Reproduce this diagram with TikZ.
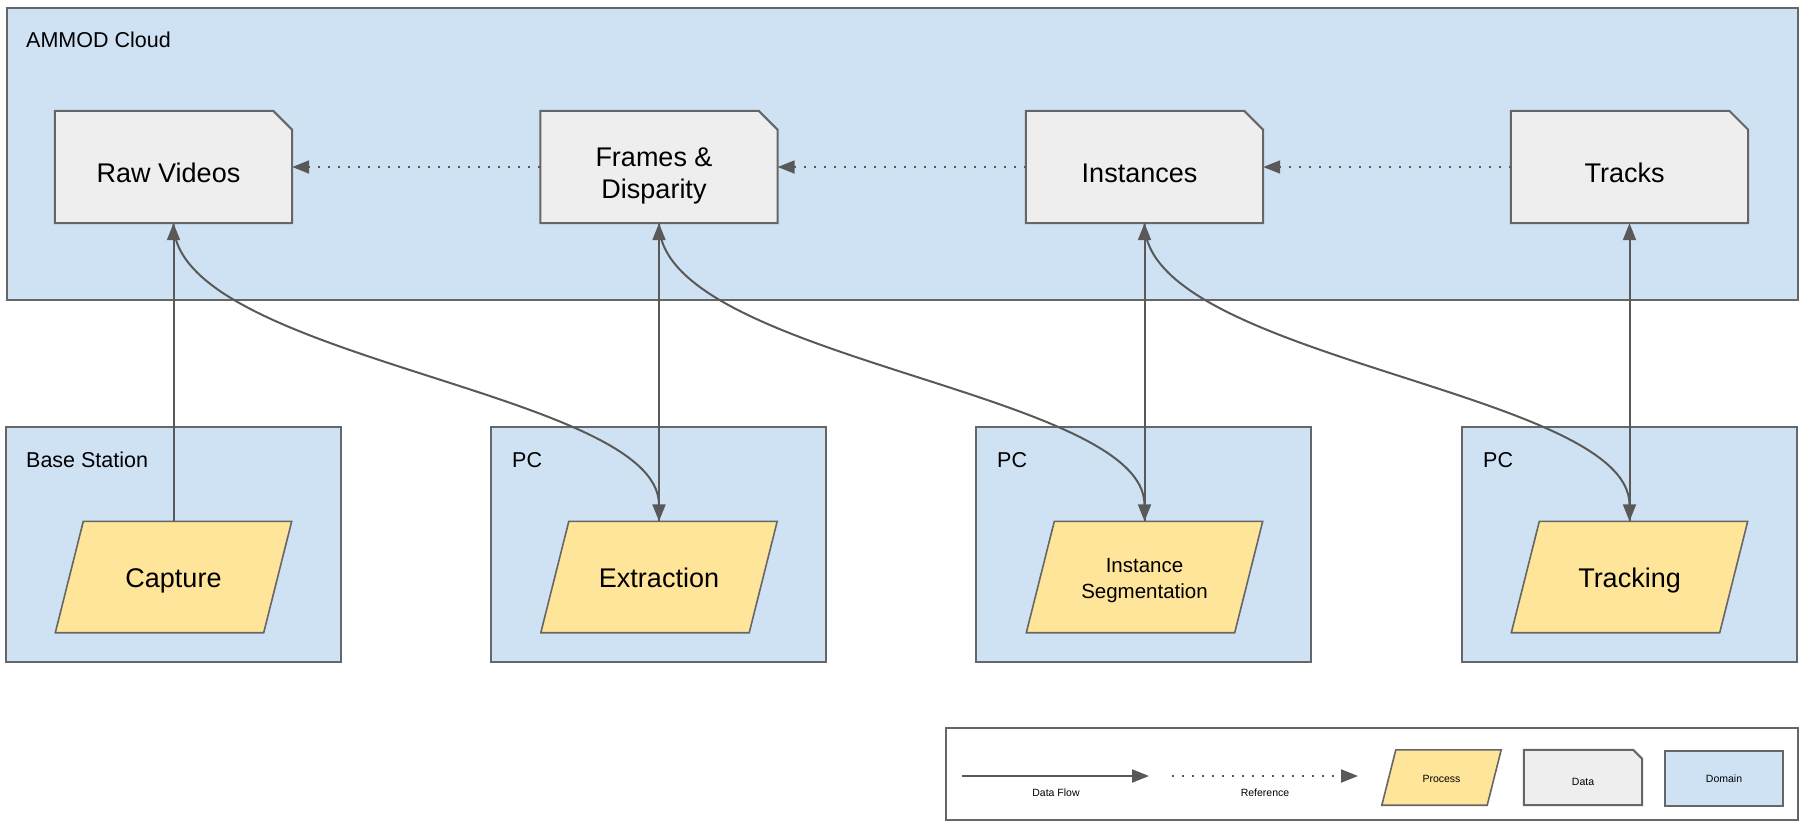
\documentclass[tikz,border=0pt]{standalone}
\usepackage{fontspec}
\setmainfont{Liberation Sans}
\usetikzlibrary{arrows.meta}
\definecolor{domainblue}{HTML}{CFE2F3}
\definecolor{datagray}{HTML}{EEEEEE}
\definecolor{procyellow}{HTML}{FFE599}
\definecolor{edgegray}{HTML}{666666}
\definecolor{arrowgray}{HTML}{595959}
\newcommand{\datashape}[2]{%
  \filldraw[datadraw] (#1.south west) -- (#1.north west) -- ([xshift=-#2]#1.north east)
    -- ([yshift=-#2]#1.north east) -- (#1.south east) -- cycle;}
\newcommand{\procshape}[2]{%
  \filldraw[procdraw] (#1.south west) -- ([xshift=#2]#1.north west) -- (#1.north east)
    -- ([xshift=-#2]#1.south east) -- cycle;}
\begin{document}
\begin{tikzpicture}[x=1pt,y=-1pt,
  domainbox/.style={draw=edgegray, line width=2pt, fill=domainblue, inner sep=0pt},
  databox/.style={rectangle, minimum width=237pt, minimum height=112pt, inner sep=0pt},
  datadraw/.style={draw=edgegray, line width=2pt, fill=datagray, line join=miter},
  datatext/.style={font=\fontsize{27}{32}\selectfont, align=center, inner sep=0pt, text=black},
  procbox/.style={rectangle, minimum width=236pt, minimum height=111pt, inner sep=0pt},
  procdraw/.style={draw=edgegray, line width=1.6pt, fill=procyellow, line join=miter},
  proctext/.style={font=\fontsize{27}{33}\selectfont, align=center, inner sep=0pt, text=black,
    text height=19.5pt, text depth=0pt},
  grouplabel/.style={anchor=base west, inner sep=0pt, font=\fontsize{21.5}{25}\selectfont},
  legendtext/.style={inner sep=0pt, font=\fontsize{10.5}{12}\selectfont},
  flow/.style={draw=arrowgray, line width=2pt, -{Triangle[length=17pt,width=13pt]}},
  ref/.style={draw=arrowgray, line width=2pt, dash pattern=on 2pt off 8pt, -{Triangle[length=17pt,width=13pt]}}
]
\useasboundingbox (0,0) rectangle (1803,823);

% domains
\node[domainbox, anchor=north west, minimum width=1791pt, minimum height=292pt] (cloud) at (6,7) {};
\node[domainbox, minimum width=335pt, minimum height=235pt] (base) at (173.5,544.5) {};
\node[domainbox, minimum width=335pt, minimum height=235pt] (pc1) at (658.5,544.5) {};
\node[domainbox, minimum width=335pt, minimum height=235pt] (pc2) at (1143.5,544.5) {};
\node[domainbox, minimum width=335pt, minimum height=235pt] (pc3) at (1629.5,544.5) {};

\node[grouplabel] (cloudlbl) at (26,47) {AMMOD Cloud};
\node[grouplabel] (baselbl) at (26,467) {Base Station};
\node[grouplabel] (pc1lbl) at (512,467) {PC};
\node[grouplabel] (pc2lbl) at (997,467) {PC};
\node[grouplabel] (pc3lbl) at (1483,467) {PC};

% data
\node[databox] (raw) at (173.5,167) {};
\node[databox] (frames) at (659,167) {};
\node[databox] (inst) at (1144.5,167) {};
\node[databox] (tracks) at (1629.5,167) {};
\datashape{raw}{19pt}
\datashape{frames}{19pt}
\datashape{inst}{19pt}
\datashape{tracks}{19pt}
\node[datatext] (rawtxt) at ([xshift=-5pt,yshift=-6pt]raw.center) {Raw Videos};
\node[datatext] (frtxt) at ([xshift=-5pt,yshift=-9pt]frames.center) {Frames \&\\Disparity};
\node[datatext] (insttxt) at ([xshift=-5pt,yshift=-6pt]inst.center) {Instances};
\node[datatext] (trtxt) at ([xshift=-5pt,yshift=-6pt]tracks.center) {Tracks};

% processes
\node[procbox] (cap) at (173.5,577) {};
\node[procbox] (ext) at (659,577) {};
\node[procbox] (seg) at (1144.5,577) {};
\node[procbox] (trk) at (1629.5,577) {};
\procshape{cap}{28pt}
\procshape{ext}{28pt}
\procshape{seg}{28pt}
\procshape{trk}{28pt}
\node[proctext] (captxt) at ([yshift=-1pt]cap.center) {Capture};
\node[proctext] (exttxt) at ([yshift=-1pt]ext.center) {Extraction};
\node[proctext, font=\fontsize{20.5}{26}\selectfont, text height=, text depth=] (segtxt) at ([yshift=-4pt]seg.center) {Instance\\Segmentation};
\node[proctext] (trktxt) at ([yshift=-1pt]trk.center) {Tracking};

% references
\draw[ref] (frames.west) -- (raw.east);
\draw[ref] (inst.west) -- (frames.east);
\draw[ref] (tracks.west) -- (inst.east);

% flows
\draw[flow] (cap.north) -- (raw.south);
\draw[flow] (ext.north) -- (frames.south);
\draw[flow] (seg.north) -- (inst.south);
\draw[flow] (trk.north) -- (tracks.south);
\draw[flow] (raw.south) .. controls +(0,136) and +(0,-131) .. (ext.north);
\draw[flow] (frames.south) .. controls +(0,136) and +(0,-131) .. (seg.north);
\draw[flow] (inst.south) .. controls +(0,136) and +(0,-131) .. (trk.north);

% legend
\node[domainbox, fill=white, anchor=north west, minimum width=852pt, minimum height=92pt] (legend) at (945,727) {};
\coordinate (lfA) at (962,776);
\coordinate (lfB) at (1149,776);
\draw[flow] (lfA) -- (lfB);
\node[legendtext] (lfl) at (1056,793) {Data Flow};
\coordinate (lrA) at (1172,776);
\coordinate (lrB) at (1358,776);
\draw[ref] (lrA) -- (lrB);
\node[legendtext] (lrl) at (1265,793) {Reference};
\node[procbox, minimum width=119pt, minimum height=55pt] (lproc) at (1441.5,777.5) {};
\procshape{lproc}{14pt}
\node[legendtext] (lproctxt) at ([yshift=-1.5pt]lproc.center) {Process};
\node[databox, minimum width=118pt, minimum height=55pt] (ldata) at (1583,777.5) {};
\datashape{ldata}{9pt}
\node[legendtext] (ldatatxt) at ([yshift=-4pt]ldata.center) {Data};
\node[domainbox, minimum width=118pt, minimum height=55pt, font=\fontsize{10.5}{12}\selectfont] (ldom) at (1724,778.5) {Domain};
\end{tikzpicture}
\end{document}
